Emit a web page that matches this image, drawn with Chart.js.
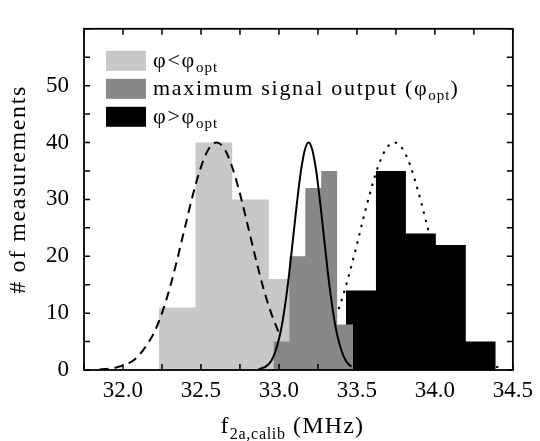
<!DOCTYPE html>
<html>
<head>
<meta charset="utf-8">
<script src="https://cdn.jsdelivr.net/npm/chart.js@4.4.0/dist/chart.umd.min.js"></script>
<style>
  body { margin: 0; background: #fff; }
  canvas { display: block; }
</style>
</head>
<body>
<canvas id="histCanvas" width="540" height="441"></canvas>
<script>
// histogram bins (edges in MHz, counts per bin)
const lowEdges = [32.23, 32.465, 32.70, 32.935, 33.17];
const lowCounts = [11, 40, 30, 16];
const optEdges = [32.965, 33.067, 33.169, 33.271, 33.373, 33.475];
const optCounts = [5, 20, 32, 35, 8];
const highEdges = [33.43, 33.622, 33.814, 34.006, 34.198, 34.39];
const highCounts = [14, 35, 24, 22, 5];

// fitted gaussians, sampled
const lowFitX = [31.85, 31.95, 32.05, 32.10, 32.15, 32.20, 32.25, 32.30, 32.35, 32.40, 32.45, 32.50, 32.55,
  32.60, 32.65, 32.70, 32.75, 32.80, 32.85, 32.90, 32.95, 33.00];
const lowFitY = [0.1, 0.4, 1.4, 2.5, 4.3, 6.6, 10.0, 14.4, 19.7, 25.4, 31.0, 35.7, 38.9,
  40, 38.9, 35.7, 31.0, 25.4, 19.7, 14.4, 10.0, 6.5];
const optFitX = [32.87, 32.89, 32.915, 32.94, 32.965, 32.99, 33.015, 33.04, 33.065, 33.09, 33.115, 33.14, 33.165,
  33.19, 33.215, 33.24, 33.265, 33.29, 33.315, 33.34, 33.365, 33.39, 33.415, 33.44, 33.465];
const optFitY = [0.1, 0.3, 0.6, 1.2, 2.4, 4.4, 7.3, 11.5, 16.8, 23.0, 29.3, 34.8, 38.6,
  40, 38.6, 34.8, 29.3, 23.0, 16.8, 11.5, 7.3, 4.4, 2.4, 1.2, 0.6];
const highFitX = [33.04, 33.14, 33.19, 33.24, 33.29, 33.34, 33.39, 33.44, 33.49, 33.54, 33.59, 33.64, 33.69,
  33.74, 33.79, 33.84, 33.89, 33.94, 33.99, 34.04, 34.09, 34.14, 34.19, 34.24, 34.29, 34.34, 34.44];
const highFitY = [0.25, 1.0, 1.8, 3.0, 4.9, 7.7, 11.3, 15.8, 21.0, 26.5, 31.7, 36.1, 39.0,
  40, 39.0, 36.1, 31.7, 26.5, 21.0, 15.8, 11.3, 7.7, 4.9, 3.0, 1.8, 1.0, 0.25];

const xTickLabels = ["32.0", "32.5", "33.0", "33.5", "34.0", "34.5"];
const yTickLabels = ["0", "10", "20", "30", "40", "50"];

const legendColors = ["#c8c8c8", "#888888", "#000000"];
const legendLabels = [
  [["φ<φ", false], ["opt", true]],
  [["maximum signal output (φ", false], ["opt", true], [")", false]],
  [["φ>φ", false], ["opt", true]],
];

const SERIF = "'Liberation Serif', 'Times New Roman', serif";

function binPoints(edges, counts) {
  const pts = counts.map((c, i) => ({ x: edges[i], y: c }));
  pts.push({ x: edges[edges.length - 1], y: 0 });
  return pts;
}

function curvePoints(xs, ys) {
  return xs.map((x, i) => ({ x: x, y: ys[i] }));
}

function histDataset(edges, counts, color, order) {
  return {
    data: binPoints(edges, counts),
    stepped: "before",
    fill: "origin",
    backgroundColor: color,
    borderColor: "rgba(0,0,0,0)",
    borderWidth: 0,
    pointRadius: 0,
    order: order,
  };
}

function fitDataset(xs, ys, dash, order) {
  return {
    data: curvePoints(xs, ys),
    fill: false,
    borderColor: "#000",
    borderWidth: 2,
    borderDash: dash,
    cubicInterpolationMode: "monotone",
    pointRadius: 0,
    order: order,
  };
}

// draws text runs, shrinking and lowering the subscript parts
function drawRuns(ctx, runs, x, y, size, spacing) {
  runs.forEach(([text, sub]) => {
    const s = sub ? Math.round(size * 0.68) : size;
    ctx.font = s + "px " + SERIF;
    ctx.letterSpacing = (sub ? spacing * 0.6 : spacing) + "px";
    ctx.fillText(text, x, y + (sub ? size * 0.25 : 0));
    x += ctx.measureText(text).width;
  });
  return x;
}

function runsWidth(ctx, runs, size, spacing) {
  let w = 0;
  runs.forEach(([text, sub]) => {
    const s = sub ? Math.round(size * 0.68) : size;
    ctx.font = s + "px " + SERIF;
    ctx.letterSpacing = (sub ? spacing * 0.6 : spacing) + "px";
    w += ctx.measureText(text).width;
  });
  return w;
}

const framePlugin = {
  id: "frame",
  afterDatasetsDraw(chart) {
    const { ctx, chartArea: a, scales } = chart;
    ctx.save();
    ctx.strokeStyle = "#000";
    ctx.lineWidth = 1.5;
    ctx.beginPath();
    scales.x.ticks.forEach((t) => {
      const px = scales.x.getPixelForValue(t.value);
      ctx.moveTo(px, a.bottom);
      ctx.lineTo(px, a.bottom - 6);
      ctx.moveTo(px, a.top);
      ctx.lineTo(px, a.top + 6);
    });
    scales.y.ticks.forEach((t) => {
      const py = scales.y.getPixelForValue(t.value);
      ctx.moveTo(a.left, py);
      ctx.lineTo(a.left + 6, py);
      ctx.moveTo(a.right, py);
      ctx.lineTo(a.right - 6, py);
    });
    ctx.stroke();
    ctx.lineWidth = 1.8;
    ctx.strokeRect(a.left, a.top, a.right - a.left, a.bottom - a.top);

    // legend
    ctx.textBaseline = "alphabetic";
    legendLabels.forEach((runs, i) => {
      const top = a.top + 22 + i * 28;
      ctx.fillStyle = legendColors[i];
      ctx.fillRect(a.left + 22, top, 40, 20);
      ctx.fillStyle = "#000";
      drawRuns(ctx, runs, a.left + 69, top + 16, 22, 1.7);
    });

    // axis titles
    const xRuns = [["f", false], ["2a,calib", true], [" (MHz)", false]];
    const w = runsWidth(ctx, xRuns, 24, 1.2);
    drawRuns(ctx, xRuns, (a.left + a.right) / 2 - w / 2 - 6, 433, 24, 1.2);

    ctx.translate(25, (a.top + a.bottom) / 2 - 10);
    ctx.rotate(-Math.PI / 2);
    ctx.font = "24px " + SERIF;
    ctx.letterSpacing = "1.6px";
    ctx.textAlign = "center";
    ctx.fillText("# of measurements", 0, 0);
    ctx.restore();
  },
};

const ctx = document.getElementById("histCanvas").getContext("2d");
new Chart(ctx, {
  type: "line",
  data: {
    datasets: [
      histDataset(lowEdges, lowCounts, legendColors[0], 6),
      histDataset(highEdges, highCounts, legendColors[2], 5),
      fitDataset(lowFitX, lowFitY, [9, 6], 4),
      fitDataset(highFitX, highFitY, [2.5, 6], 3),
      histDataset(optEdges, optCounts, legendColors[1], 2),
      fitDataset(optFitX, optFitY, [], 1),
    ],
  },
  options: {
    responsive: false,
    animation: false,
    events: [],
    layout: { padding: { top: 10, right: 22, left: 0, bottom: 0 } },
    plugins: {
      legend: { display: false },
      tooltip: { enabled: false },
    },
    scales: {
      x: {
        type: "linear",
        min: 31.75,
        max: 34.5,
        grid: { display: false, drawTicks: false },
        border: { display: false },
        ticks: {
          stepSize: 0.25,
          autoSkip: false,
          maxRotation: 0,
          padding: 7,
          color: "#000",
          font: { family: SERIF, size: 23 },
          callback: (v) => {
            const s = Number(v).toFixed(1);
            return xTickLabels.includes(s) && Math.abs(v * 2 - Math.round(v * 2)) < 1e-6 ? s : "";
          },
        },
        afterFit: (scale) => { scale.height = 71; },
      },
      y: {
        min: 0,
        max: 60,
        grid: { display: false, drawTicks: false },
        border: { display: false },
        ticks: {
          stepSize: 5,
          autoSkip: false,
          padding: 15,
          color: "#000",
          font: { family: SERIF, size: 23 },
          callback: (v) => (yTickLabels.includes(String(v)) ? String(v) : ""),
        },
        afterFit: (scale) => { scale.width = 84; },
      },
    },
  },
  plugins: [framePlugin],
});
</script>
</body>
</html>
